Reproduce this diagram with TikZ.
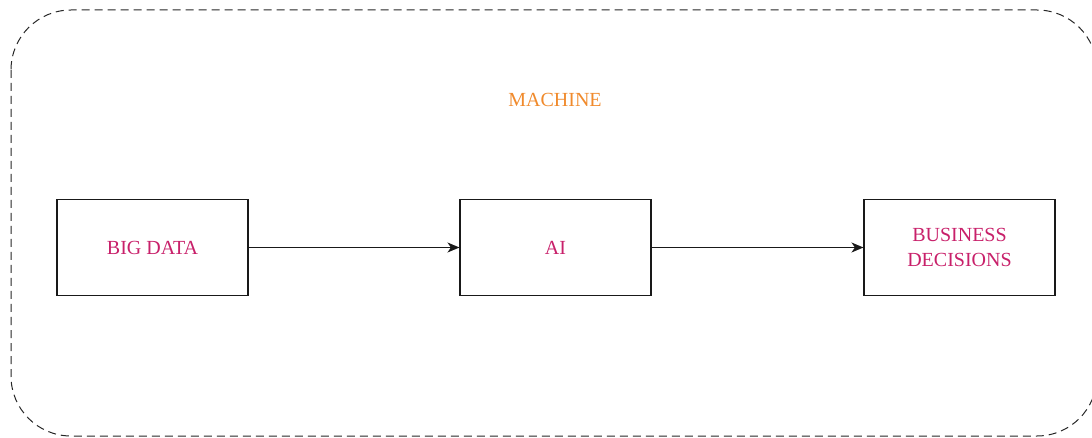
\documentclass[tikz,border=0pt]{standalone}
\usepackage{fontspec}
\setmainfont{Liberation Serif}
\usetikzlibrary{arrows.meta}
\definecolor{labelpink}{HTML}{C8206A}
\definecolor{labelorange}{HTML}{F08A2C}
\tikzset{
  stagebox/.style={draw=black!90, line width=1.1pt, minimum width=191pt, minimum height=96pt,
    inner sep=0pt, text=labelpink, font=\fontsize{20}{25}\selectfont, align=center},
  flow/.style={draw=black!90, line width=1.1pt, -{Stealth[length=12pt,width=10pt,inset=3.5pt]}},
  frame/.style={draw=black!85, line width=1pt, dash pattern=on 8pt off 5pt, rounded corners=60pt}
}
\begin{document}
\begin{tikzpicture}[x=1pt,y=-1pt]
  \useasboundingbox (0,0) rectangle (1092,438);
  \begin{scope}
    \clip (0,0) rectangle (1092,438);
    \draw[frame] (11,10) rectangle (1097,436);
  \end{scope}
  \node[text=labelorange, font=\fontsize{20}{25}\selectfont] (machine) at (555,100) {MACHINE};
  \node[stagebox] (bigdata) at (152.5,247.5) {BIG DATA};
  \node[stagebox] (ai) at (555.5,247.5) {AI};
  \node[stagebox] (business) at (959.5,247.5) {BUSINESS\\DECISIONS};
  \draw[flow] (bigdata) -- (ai);
  \draw[flow] (ai) -- (business);
\end{tikzpicture}
\end{document}
